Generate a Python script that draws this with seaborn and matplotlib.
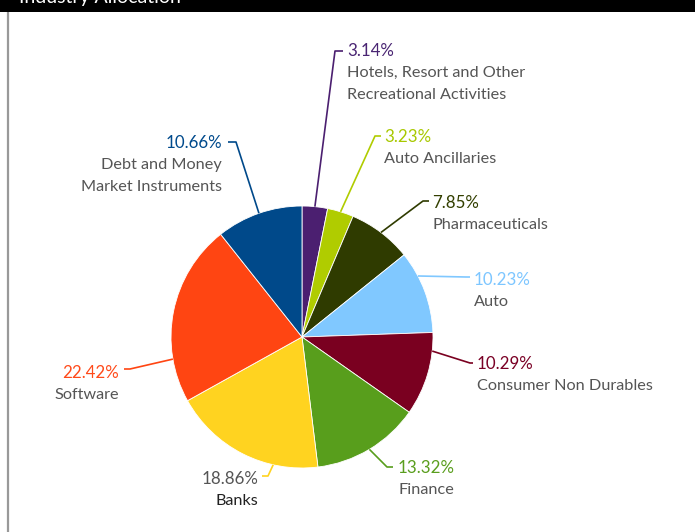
import numpy as np
import matplotlib
matplotlib.use("Agg")
import matplotlib.pyplot as plt
import seaborn as sns
from matplotlib.patches import Rectangle
from matplotlib.lines import Line2D

# ---- data ----
sectors = ["Hotels, Resort and Other\nRecreational Activities", "Auto Ancillaries",
           "Pharmaceuticals", "Auto", "Consumer Non Durables", "Finance",
           "Banks", "Software", "Debt and Money\nMarket Instruments"]
shares = [3.14, 3.23, 7.85, 10.23, 10.29, 13.32, 18.86, 22.42, 10.66]
title = "Industry Allocation"

colors = ["#4B1F70", "#B0CC00", "#2F3B00", "#80C8FF", "#7A0020",
          "#589E1C", "#FFD320", "#FF4512", "#00498A"]
pct_colors = ["#4A2573", "#A8C800", "#333F00", "#7DC6FF", "#7A0025",
              "#5A9E1E", "#555555", "#FF4A1A", "#004A8C"]
name_colors = ["#555555"] * 6 + ["#222222"] + ["#555555"] * 2

sns.set_theme(style="white")
plt.rcParams["font.family"] = ["Lato", "DejaVu Sans"]

W, H = 695, 532
cx, cy, R = 302, 337, 131

fig = plt.figure(figsize=(W / 100, H / 100), dpi=100)
fig.patch.set_facecolor("white")
ax = fig.add_axes([0, 0, 1, 1])

wedges, _ = ax.pie(shares, colors=colors, startangle=90, counterclock=False,
                   radius=1, center=(0, 0),
                   wedgeprops=dict(linewidth=0.6, edgecolor="white"))
ax.set_xlim(-cx / R, (W - cx) / R)
ax.set_ylim((cy - H) / R, cy / R)
ax.set_aspect("auto")
ax.axis("off")


def P(px, py):
    return ((px - cx) / R, (cy - py) / R)


# layout: anchor fraction inside wedge (clockwise), corner px, tick end px, text x, text y, ha
layout = [
    (0.5, (335, 51), (343, 51), 347, 51, "left"),
    (0.5, (375, 136), (381, 136), 384, 137, "left"),
    (0.5, (423, 201), (429, 201), 432, 203, "left"),
    (0.3, (466, 277), (470, 277), 474, 280, "left"),
    (0.22, (470, 363), (473, 363), 477, 364, "left"),
    (0.5, (387, 467), (393, 467), 398, 468, "left"),
    (0.29, (268, 476), (262, 476), 258, 479, "right"),
    (0.24, (130, 369), (124, 369), 119, 373, "right"),
    (0.5, (236, 142), (228, 142), 222, 143, "right"),
]

for w, name, val, pc, nc, (fr, corner, tick, tx, ty, ha) in zip(
        wedges, sectors, shares, pct_colors, name_colors, layout):
    ang = np.deg2rad(w.theta2 - fr * (w.theta2 - w.theta1))
    a = (np.cos(ang), np.sin(ang))
    c = P(*corner)
    t = P(*tick)
    ax.add_line(Line2D([a[0], c[0], t[0]], [a[1], c[1], t[1]],
                       color=w.get_facecolor(), lw=1.2, solid_capstyle="butt"))
    x, y = P(tx, ty)
    ax.text(x, y, f"{val:.2f}%", color=pc, fontsize=12.2, ha=ha, va="center")
    for i, line in enumerate(name.split("\n")):
        x2, y2 = P(tx, ty + 22 * (i + 1))
        ax.text(x2, y2, line, color=nc, fontsize=11.7, ha=ha, va="center")

# title bar (cut off at top, as in the reference) and left border
fig.add_artist(Rectangle((0, 1 - 12 / H), 1, 12 / H, transform=fig.transFigure,
                         facecolor="black", edgecolor="none", zorder=5))
fig.text(19 / W, 1 - 2.5 / H, title, color="white", fontsize=14, ha="left",
         va="baseline", zorder=6)
fig.add_artist(Line2D([7.5 / W, 7.5 / W], [0, 1 - 12 / H], transform=fig.transFigure,
                      color="#999999", lw=1.6))

fig.savefig("out.png", dpi=100)
